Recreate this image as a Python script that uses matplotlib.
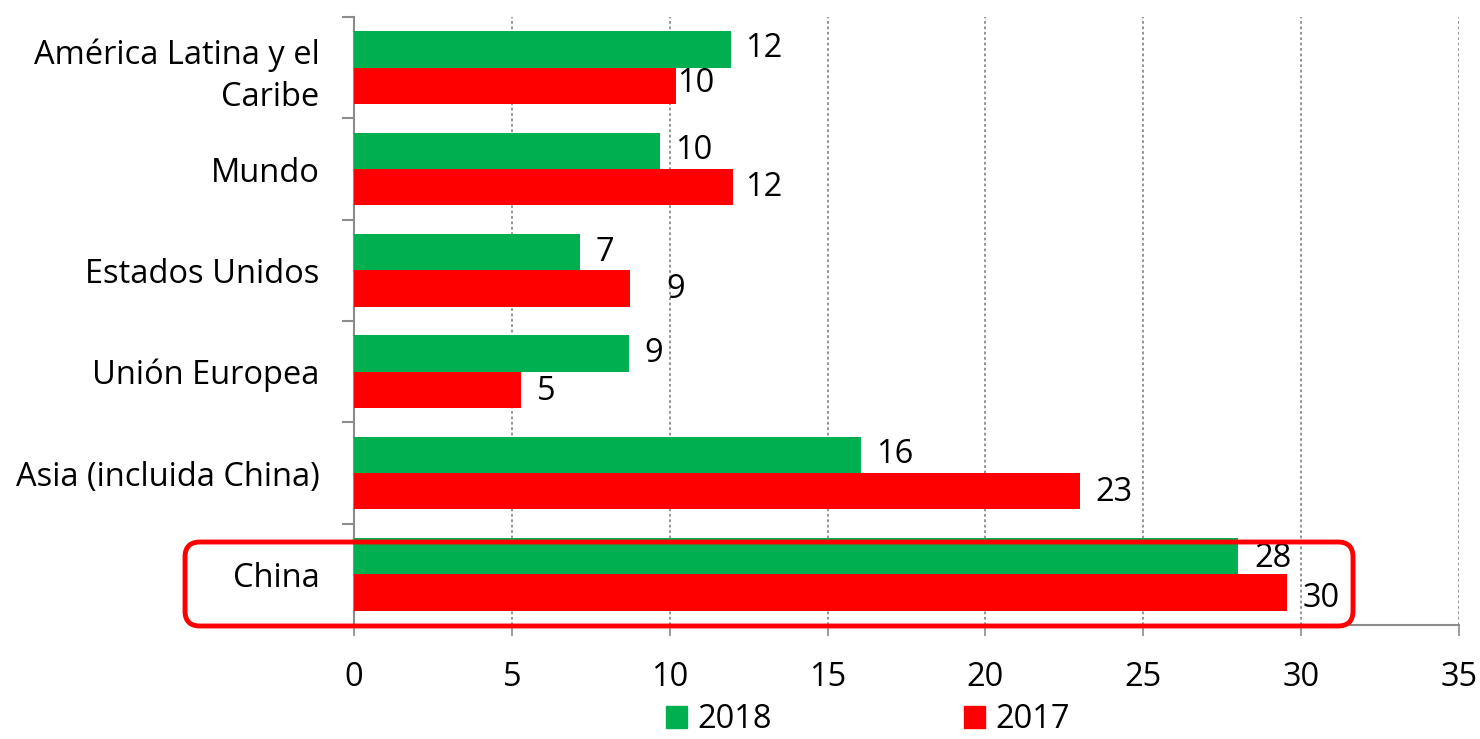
import matplotlib
matplotlib.use("Agg")
import matplotlib.pyplot as plt
from matplotlib.patches import FancyBboxPatch, Patch
from matplotlib.ticker import FixedLocator
import numpy as np

plt.rcParams['font.family'] = ['Open Sans', 'DejaVu Sans']

categories = ["América Latina y el\nCaribe", "Mundo", "Estados Unidos",
              "Unión Europea", "Asia (incluida China)", "China"]
values_2018 = [11.95, 9.7, 7.15, 8.7, 16.05, 28.0]
values_2017 = [10.2, 12.0, 8.75, 5.3, 23.0, 29.55]
labels_2018 = ["12", "10", "7", "9", "16", "28"]
labels_2017 = ["10", "12", "9", "5", "23", "30"]
xticks = [0, 5, 10, 15, 20, 25, 30, 35]

green = "#00B050"
red = "#FF0000"
gray = "#8C8C8C"

fig = plt.figure(figsize=(14.8, 7.39), dpi=100)
ax = fig.add_axes([354/1480, 1-625/739, (1459-354)/1480, (625-17)/739])

y = np.arange(len(categories))
h = 0.36
ax.barh(y - h/2, values_2018, height=h, color=green, zorder=3)
ax.barh(y + h/2, values_2017, height=h, color=red, zorder=3)

fs = 23.5
# label offsets (points)
off18 = [10, 11, 11, 11, 11, 12]
off17 = [1, 9, 26, 11, 11, 11]
dy18 = [1, 0, 0, 0, 0, -2]
dy17 = [2, 0, -1, -1, -1, -4]
for i in range(len(categories)):
    ax.annotate(labels_2018[i], (values_2018[i], y[i] - h/2), xytext=(off18[i], dy18[i]),
                textcoords="offset points", ha="left", va="center", fontsize=fs, zorder=5)
    ax.annotate(labels_2017[i], (values_2017[i], y[i] + h/2), xytext=(off17[i], dy17[i]),
                textcoords="offset points", ha="left", va="center", fontsize=fs, zorder=5)

ax.set_xlim(0, 35)
ax.set_ylim(len(categories) - 0.5, -0.5)
ax.set_xticks(xticks)
ax.set_xticklabels([str(t) for t in xticks], fontsize=fs)
ax.set_yticks(y)
ax.set_yticklabels(categories, fontsize=fs, linespacing=1.35)
ax.yaxis.set_minor_locator(FixedLocator(np.arange(-0.5, len(categories), 1.0)))
ax.tick_params(axis='y', which='major', length=0, pad=25)
ax.tick_params(axis='y', which='minor', length=9, color=gray, width=1.5)
ax.tick_params(axis='x', which='major', length=8, color=gray, width=1.2, pad=18)

ax.xaxis.grid(True, linestyle=(0, (1.5, 1.5)), color=gray, linewidth=1.3, zorder=0)
ax.set_axisbelow(True)
for s in ["top", "right"]:
    ax.spines[s].set_visible(False)
ax.spines["left"].set_color(gray)
ax.spines["left"].set_linewidth(1.5)
ax.spines["bottom"].set_color(gray)
ax.spines["bottom"].set_linewidth(1.5)

# highlight box around China (annotation)
box = FancyBboxPatch((1.85, 1.13), 11.68, 0.84,
                     boxstyle="round,pad=0,rounding_size=0.15",
                     transform=fig.dpi_scale_trans, fill=False,
                     edgecolor=red, linewidth=3.5, zorder=10)
fig.patches.append(box)

handles = [Patch(color=green, label="2018"), Patch(color=red, label="2017")]
fig.legend(handles=handles, loc="lower center", bbox_to_anchor=(868/1480, -0.036),
           ncol=2, frameon=False, fontsize=fs, handlelength=0.64, handleheight=0.64,
           handletextpad=0.3, columnspacing=5.9)

fig.savefig("out.png", dpi=100)
